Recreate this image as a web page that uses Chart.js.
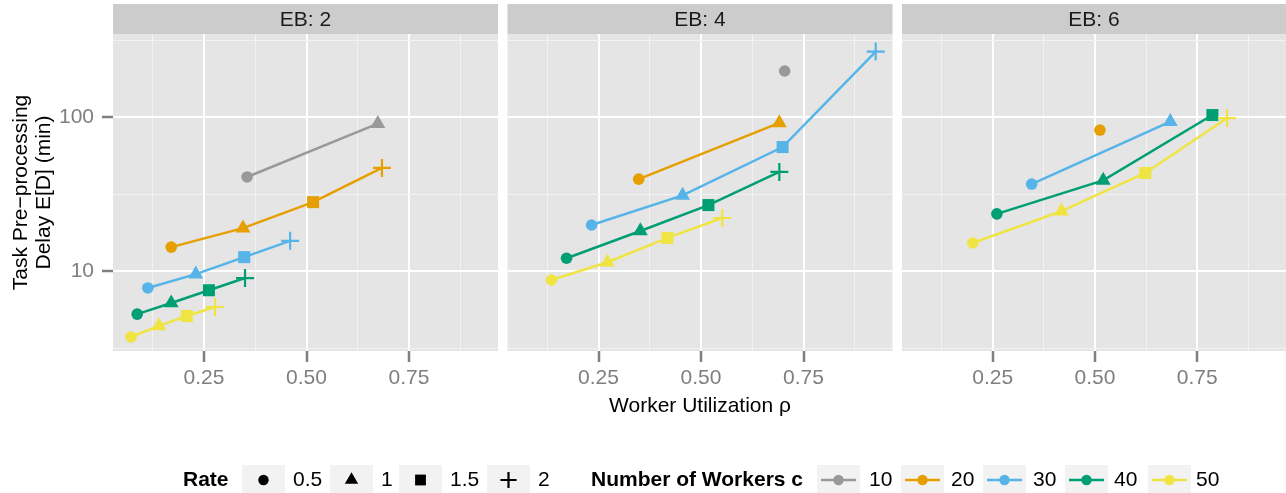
<!DOCTYPE html>
<html>
<head>
<meta charset="utf-8">
<title>Task pre-processing delay vs worker utilization</title>
<script src="https://cdn.jsdelivr.net/npm/chart.js@4.4.1/dist/chart.umd.min.js"></script>
<style>
  html, body { margin: 0; padding: 0; background: #ffffff; }
  #wrap { position: relative; width: 1286px; height: 493px; overflow: hidden; }
  #wrap canvas { position: absolute; left: 0; top: 0; }
</style>
</head>
<body>
<div id="wrap">
  <canvas id="panel0" width="1286" height="493"></canvas>
  <canvas id="panel1" width="1286" height="493"></canvas>
  <canvas id="panel2" width="1286" height="493"></canvas>
</div>
<script>
// ---- data ---------------------------------------------------------------
const panelTitles = ['EB: 2', 'EB: 4', 'EB: 6'];
const workerCounts = [10, 20, 30, 40, 50];
const workerColors = ['#999999', '#E69F00', '#56B4E9', '#009E73', '#F0E442'];
const rateLabels = ['0.5', '1', '1.5', '2'];
const rateShapes = ['circle', 'triangle', 'rect', 'cross'];
const xTickValues = [0.25, 0.5, 0.75];
const yTickValues = [10, 100];

// rows follow workerCounts, entries follow rateLabels (missing rates omitted)
const rhoEB2 = [
  [0.355, 0.674],
  [0.170, 0.345, 0.516, 0.684],
  [0.113, 0.230, 0.348, 0.460],
  [0.087, 0.170, 0.262, 0.350],
  [0.072, 0.140, 0.208, 0.277]
];
const delayEB2 = [
  [40.8, 90.5],
  [14.3, 19.0, 28.0, 46.7],
  [7.76, 9.55, 12.3, 15.7],
  [5.25, 6.2, 7.5, 9.0],
  [3.73, 4.4, 5.1, 5.84]
];
const rhoEB4 = [
  [0.704],
  [0.348, 0.691],
  [0.233, 0.455, 0.699, 0.926],
  [0.172, 0.352, 0.518, 0.691],
  [0.135, 0.272, 0.418, 0.552]
];
const delayEB4 = [
  [199],
  [39.5, 91.5],
  [19.9, 31.0, 63.8, 266],
  [12.1, 18.2, 26.8, 44.0],
  [8.74, 11.4, 16.4, 22.1]
];
const rhoEB6 = [
  [],
  [0.512],
  [0.345, 0.684],
  [0.260, 0.520, 0.787],
  [0.201, 0.418, 0.623, 0.823]
];
const delayEB6 = [
  [],
  [82.3],
  [36.7, 93.4],
  [23.5, 38.8, 103],
  [15.2, 24.5, 43.3, 98.5]
];

const rhoByPanel = [rhoEB2, rhoEB4, rhoEB6];
const delayByPanel = [delayEB2, delayEB4, delayEB6];

// ---- styling ------------------------------------------------------------
const FONT = '"Liberation Sans", Arial, Helvetica, sans-serif';
Chart.defaults.font.family = FONT;
Chart.defaults.font.size = 21;

const panelLefts = [113, 507.5, 902];
const panelWidth = 385;
const PANEL_TOP = 34;
const PANEL_BOTTOM = 351;
const STRIP_TOP = 4;
const CANVAS_W = 1286;
const CANVAS_H = 493;

const markRadius = { circle: 5.8, triangle: 8.6, rect: 8.5, cross: 9 };

const isQuarter = v => Math.abs(v * 4 - Math.round(v * 4)) < 1e-6;
const isDecade = v => yTickValues.some(t => Math.abs(v - t) < 1e-6);

// gray panel background and facet strip
const panelFrame = {
  id: 'panelFrame',
  beforeDraw(chart, args, opts) {
    const { ctx, chartArea: a } = chart;
    ctx.save();
    ctx.fillStyle = '#e5e5e5';
    ctx.fillRect(a.left, a.top, a.right - a.left, a.bottom - a.top);
    ctx.fillStyle = '#cccccc';
    ctx.fillRect(a.left, STRIP_TOP, a.right - a.left, a.top - STRIP_TOP);
    ctx.fillStyle = '#1a1a1a';
    ctx.font = '21px ' + FONT;
    ctx.textAlign = 'center';
    ctx.textBaseline = 'middle';
    ctx.fillText(opts.title, (a.left + a.right) / 2, (STRIP_TOP + a.top) / 2 + 1);
    ctx.restore();
  }
};

// shared legend under the panels
function drawMark(ctx, shape, x, y, color, scale) {
  const r = markRadius[shape] * scale;
  ctx.fillStyle = color;
  ctx.strokeStyle = color;
  ctx.beginPath();
  if (shape === 'circle') {
    ctx.arc(x, y, r, 0, Math.PI * 2);
    ctx.fill();
  } else if (shape === 'triangle') {
    ctx.moveTo(x, y - r);
    ctx.lineTo(x + r * Math.sqrt(3) / 2, y + r / 2);
    ctx.lineTo(x - r * Math.sqrt(3) / 2, y + r / 2);
    ctx.closePath();
    ctx.fill();
  } else if (shape === 'rect') {
    const s = r * Math.SQRT1_2;
    ctx.rect(x - s, y - s, 2 * s, 2 * s);
    ctx.fill();
  } else {
    ctx.lineWidth = 2.2;
    ctx.moveTo(x - r, y); ctx.lineTo(x + r, y);
    ctx.moveTo(x, y - r); ctx.lineTo(x, y + r);
    ctx.stroke();
  }
}

const keyLegend = {
  id: 'keyLegend',
  afterDraw(chart) {
    const ctx = chart.ctx;
    const cy = 480;
    const boxTop = 465, boxH = 30, boxW = 43;
    const rateBoxes = [242, 330, 399, 487];
    const rateText = [293, 381, 450, 538];
    const workerBoxes = [817, 901, 983, 1065, 1148];
    const workerText = [869, 951, 1033, 1114, 1196];
    ctx.save();
    ctx.textBaseline = 'middle';
    ctx.textAlign = 'left';
    ctx.fillStyle = '#000000';
    ctx.font = 'bold 21px ' + FONT;
    ctx.fillText('Rate', 183, cy);
    ctx.fillText('Number of Workers c', 591, cy);

    rateLabels.forEach((lab, i) => {
      ctx.fillStyle = '#f2f2f2';
      ctx.fillRect(rateBoxes[i], boxTop, boxW, boxH);
      drawMark(ctx, rateShapes[i], rateBoxes[i] + boxW / 2, cy, '#000000', 0.9);
      ctx.fillStyle = '#000000';
      ctx.font = '21px ' + FONT;
      ctx.fillText(lab, rateText[i], cy);
    });

    workerCounts.forEach((c, i) => {
      const bx = workerBoxes[i];
      ctx.fillStyle = '#f2f2f2';
      ctx.fillRect(bx, boxTop, boxW, boxH);
      ctx.strokeStyle = workerColors[i];
      ctx.lineWidth = 2.5;
      ctx.beginPath();
      ctx.moveTo(bx + 4, cy);
      ctx.lineTo(bx + boxW - 4, cy);
      ctx.stroke();
      drawMark(ctx, 'circle', bx + boxW / 2, cy, workerColors[i], 0.9);
      ctx.fillStyle = '#000000';
      ctx.font = '21px ' + FONT;
      ctx.fillText(String(c), workerText[i], cy);
    });
    ctx.restore();
  }
};

function datasetsFor(p) {
  const out = [];
  workerCounts.forEach((c, wi) => {
    const xs = rhoByPanel[p][wi];
    const ys = delayByPanel[p][wi];
    if (!xs.length) return;
    out.push({
      label: 'c = ' + c,
      data: xs.map((x, k) => ({ x: x, y: ys[k], shape: rateShapes[k] })),
      borderColor: workerColors[wi],
      backgroundColor: workerColors[wi],
      borderWidth: 2.5,
      showLine: true,
      clip: false,
      order: -wi,
      pointStyle: ctx => ctx.raw ? ctx.raw.shape : 'circle',
      pointRadius: ctx => ctx.raw ? markRadius[ctx.raw.shape] : 5,
      pointBorderWidth: ctx => (ctx.raw && ctx.raw.shape === 'cross') ? 2.2 : 0,
      pointBorderColor: workerColors[wi],
      pointBackgroundColor: workerColors[wi]
    });
  });
  return out;
}

function scalesFor(p) {
  const first = p === 0;
  return {
    x: {
      type: 'linear',
      min: 0.028,
      max: 0.967,
      afterBuildTicks: s => {
        s.ticks = [0.125, 0.25, 0.375, 0.5, 0.625, 0.75, 0.875].map(v => ({ value: v }));
      },
      afterFit: s => { s.height = CANVAS_H - PANEL_BOTTOM; },
      ticks: {
        autoSkip: false,
        maxRotation: 0,
        color: '#7f7f7f',
        padding: 4,
        font: { size: 21 },
        callback: v => xTickValues.some(t => Math.abs(t - v) < 1e-6) ? v.toFixed(2) : ''
      },
      grid: {
        color: c => isQuarter(c.tick.value) ? '#ffffff' : '#f2f2f2',
        lineWidth: c => isQuarter(c.tick.value) ? 2 : 1,
        tickColor: c => isQuarter(c.tick.value) ? '#7f7f7f' : 'rgba(0,0,0,0)',
        tickLength: 11,
        tickWidth: 2.5
      },
      border: { display: false },
      title: p === 1 ? {
        display: true,
        text: 'Worker Utilization \u03C1',
        color: '#000000',
        font: { size: 21 },
        padding: { top: 0, bottom: 74 }
      } : { display: false }
    },
    y: {
      type: 'logarithmic',
      min: 3.024,
      max: 346,
      afterBuildTicks: s => {
        s.ticks = [3.1623, 10, 31.623, 100, 316.23].map(v => ({ value: v }));
      },
      afterFit: s => { s.width = first ? panelLefts[0] : 0; },
      ticks: {
        display: first,
        color: '#7f7f7f',
        padding: 8,
        font: { size: 21 },
        callback: v => isDecade(v) ? String(Math.round(v)) : ''
      },
      grid: {
        color: c => isDecade(c.tick.value) ? '#ffffff' : '#f2f2f2',
        lineWidth: c => isDecade(c.tick.value) ? 2 : 1,
        tickColor: c => isDecade(c.tick.value) ? '#7f7f7f' : 'rgba(0,0,0,0)',
        drawTicks: first,
        tickLength: 11,
        tickWidth: 2.5
      },
      border: { display: false },
      title: first ? {
        display: true,
        text: ['Task Pre\u2212processing', 'Delay E[D] (min)'],
        color: '#000000',
        font: { size: 21, lineHeight: 1.1 },
        padding: { top: 9.5, bottom: 0 }
      } : { display: false }
    }
  };
}

panelTitles.forEach((title, p) => {
  const left = panelLefts[p];
  const right = Math.min(left + panelWidth, CANVAS_W);
  new Chart(document.getElementById('panel' + p), {
    type: 'scatter',
    data: { datasets: datasetsFor(p) },
    options: {
      responsive: false,
      animation: false,
      devicePixelRatio: 1,
      events: [],
      layout: {
        autoPadding: false,
        padding: {
          left: p === 0 ? 0 : left,
          right: CANVAS_W - right,
          top: PANEL_TOP,
          bottom: 0
        }
      },
      scales: scalesFor(p),
      plugins: {
        legend: { display: false },
        tooltip: { enabled: false },
        panelFrame: { title: title }
      }
    },
    plugins: p === 0 ? [panelFrame, keyLegend] : [panelFrame]
  });
});
</script>
</body>
</html>
